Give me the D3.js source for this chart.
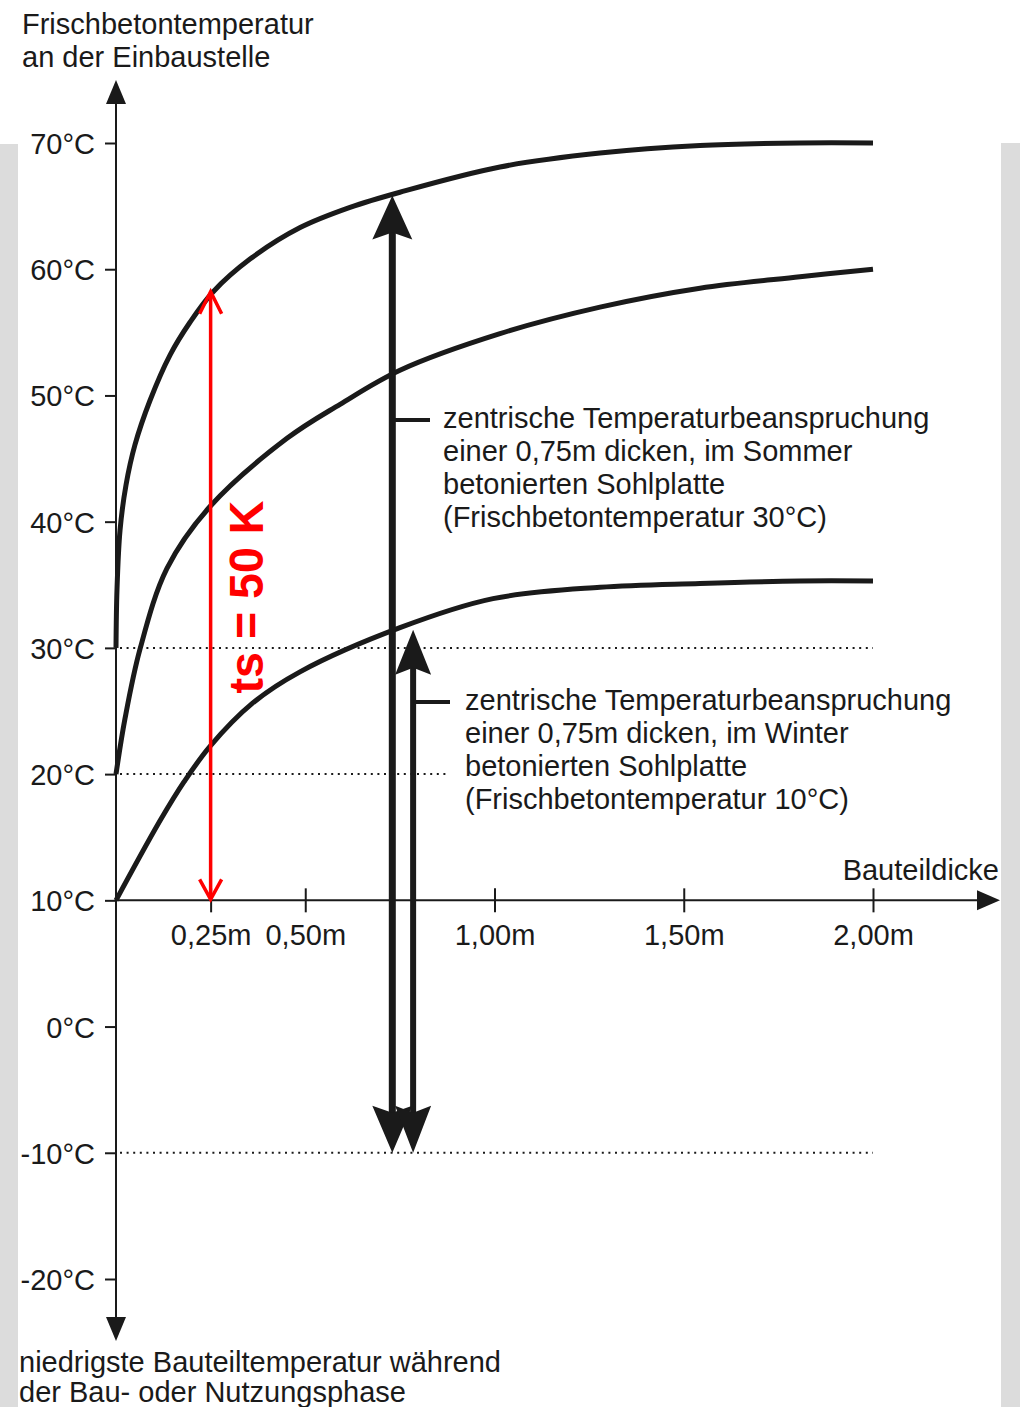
<!DOCTYPE html>
<html><head><meta charset="utf-8">
<script src="https://cdn.jsdelivr.net/npm/d3@7"></script>
<style>
html,body{margin:0;padding:0;background:#fff;}
svg{display:block;}
text{font-family:"Liberation Sans",Arial,Helvetica,sans-serif;fill:#1a1a1a;}
</style></head>
<body>
<svg id="chart" width="1020" height="1407"></svg>
<script>
// ---- data ----
const yTicks = [-20, -10, 0, 10, 20, 30, 40, 50, 60, 70];
const xTicks = [0.25, 0.5, 1.0, 1.5, 2.0];
const xTickLabels = ["0,25m", "0,50m", "1,00m", "1,50m", "2,00m"];

// curve 1: fresh concrete 30°C
const thickSummer = [0, 0.0026, 0.0106, 0.0264, 0.0502, 0.0898, 0.1427, 0.1955, 0.2563, 0.354, 0.4865, 0.6182, 0.7503, 1.0145, 1.2787, 1.5429, 1.807, 2.0];
const tempSummer  = [30, 34.6, 39.3, 42.9, 46.1, 49.6, 53.2, 55.8, 58.2, 60.8, 63.3, 64.9, 66.1, 68.1, 69.2, 69.8, 70.0, 70.0];
// curve 2: fresh concrete 20°C
const thickMid = [0, 0.0238, 0.0634, 0.1347, 0.2483, 0.4518, 0.592, 0.7503, 1.0145, 1.2787, 1.5429, 1.807, 2.0];
const tempMid  = [20, 24.4, 29.9, 36.3, 41.2, 46.6, 49.3, 52.0, 54.9, 57.0, 58.5, 59.4, 60.0];
// curve 3: fresh concrete 10°C
const thickWinter = [0, 0.1162, 0.18, 0.2483, 0.36, 0.4861, 0.7503, 0.996, 1.2787, 1.5429, 1.807, 2.0];
const tempWinter  = [10, 16.3, 19.4, 22.2, 25.6, 28.1, 31.6, 33.9, 34.8, 35.1, 35.3, 35.3];

// reference (dotted) levels: [temperature, end thickness]
const refLevels = [[30, 2.0], [20, 0.88], [-10, 2.0]];

// temperature-load arrows
const summerArrow = {x: 0.73, top: 66.0, bottom: -10};
const winterArrow = {x: 0.785, top: 31.6, bottom: -10};
const tsArrow = {x: 0.25, top: 58.3, bottom: 10};

const yTitle = ["Frischbetontemperatur", "an der Einbaustelle"];
const yTitleBottom = ["niedrigste Bauteiltemperatur während", "der Bau- oder Nutzungsphase"];
const xTitle = "Bauteildicke";
const summerText = ["zentrische Temperaturbeanspruchung", "einer 0,75m dicken, im Sommer", "betonierten Sohlplatte", "(Frischbetontemperatur 30°C)"];
const winterText = ["zentrische Temperaturbeanspruchung", "einer 0,75m dicken, im Winter", "betonierten Sohlplatte", "(Frischbetontemperatur 10°C)"];
const tsLabel = "ts = 50 K";

// ---- drawing ----
const svg = d3.select("#chart");
const ink = "#1a1a1a";
const FS = 29;

// gray page edges
svg.append("rect").attr("x", 0).attr("y", 144).attr("width", 18).attr("height", 1407 - 144).attr("fill", "#dcdcdc");
svg.append("rect").attr("x", 1001).attr("y", 143).attr("width", 19).attr("height", 1407 - 143).attr("fill", "#dcdcdc");

const x = d3.scaleLinear().domain([0, 2]).range([116, 873]);
const y = d3.scaleLinear().domain([-20, 70]).range([1279, 143]);

// dotted reference lines
svg.selectAll("line.ref").data(refLevels).join("line")
  .attr("class", "ref")
  .attr("x1", x(0) + 4).attr("x2", d => x(d[1]))
  .attr("y1", d => y(d[0])).attr("y2", d => y(d[0]))
  .attr("stroke", ink).attr("stroke-width", 2).attr("stroke-dasharray", "2,4.6");

// y axis
const yAxis = d3.axisLeft(y).tickValues(yTicks).tickSize(11).tickPadding(10).tickFormat(d => d + "°C");
const gy = svg.append("g").attr("transform", `translate(${x(0)},0)`).call(yAxis);
gy.select(".domain").remove();
gy.selectAll(".tick line").attr("stroke", ink).attr("stroke-width", 2);
gy.selectAll(".tick text").attr("font-size", FS).attr("fill", ink).attr("dy", "0.36em")
  .style("font-family", '"Liberation Sans",Arial,sans-serif');
svg.append("line").attr("x1", x(0)).attr("x2", x(0)).attr("y1", 100).attr("y2", 1320)
  .attr("stroke", ink).attr("stroke-width", 2);
svg.append("path").attr("d", `M${x(0)},80 L${x(0)+10},104 L${x(0)-10},104 Z`).attr("fill", ink);
svg.append("path").attr("d", `M${x(0)},1341 L${x(0)+10},1317 L${x(0)-10},1317 Z`).attr("fill", ink);

// x axis
const xAxis = d3.axisBottom(x).tickValues(xTicks).tickSize(12).tickFormat((d, i) => xTickLabels[i]);
const gx = svg.append("g").attr("transform", `translate(0,${y(10)})`).call(xAxis);
gx.select(".domain").remove();
gx.selectAll(".tick line").attr("y1", -12).attr("y2", 12).attr("stroke", ink).attr("stroke-width", 2);
gx.selectAll(".tick text").attr("font-size", FS).attr("fill", ink).attr("y", 45).attr("dy", 0)
  .style("font-family", '"Liberation Sans",Arial,sans-serif');
svg.append("line").attr("x1", x(0)).attr("x2", 980).attr("y1", y(10)).attr("y2", y(10))
  .attr("stroke", ink).attr("stroke-width", 2);
svg.append("path").attr("d", `M1000,${y(10)} L977,${y(10)-10} L977,${y(10)+10} Z`).attr("fill", ink);

// curves
const line = d3.line().x(d => x(d[0])).y(d => y(d[1])).curve(d3.curveCatmullRom.alpha(0.5));
const curves = [
  d3.zip(thickSummer, tempSummer),
  d3.zip(thickMid, tempMid),
  d3.zip(thickWinter, tempWinter)
];
svg.selectAll("path.curve").data(curves).join("path")
  .attr("class", "curve").attr("d", line)
  .attr("fill", "none").attr("stroke", ink).attr("stroke-width", 5);

// big black arrows
function stealthUp(cx, tip, hw, len, notch) {
  return `M${cx},${tip} L${cx+hw},${tip+len} L${cx},${tip+notch} L${cx-hw},${tip+len} Z`;
}
function stealthDown(cx, tip, hw, len, notch) {
  return `M${cx},${tip} L${cx+hw},${tip-len} L${cx},${tip-notch} L${cx-hw},${tip-len} Z`;
}
[[summerArrow, 7, 20, 44, 37], [winterArrow, 6, 18, 45, 38]].forEach(([a, w, hw, len, notch]) => {
  const cx = x(a.x);
  svg.append("line").attr("x1", cx).attr("x2", cx).attr("y1", y(a.top) + 30).attr("y2", y(a.bottom) - 30)
    .attr("stroke", ink).attr("stroke-width", w);
  svg.append("path").attr("d", stealthUp(cx, y(a.top) + 2, hw, len, notch)).attr("fill", ink);
  svg.append("path").attr("d", stealthDown(cx, y(a.bottom), hw, 47, 40)).attr("fill", ink);
});
// connectors
svg.append("line").attr("x1", x(summerArrow.x)).attr("x2", 430).attr("y1", 420).attr("y2", 420)
  .attr("stroke", ink).attr("stroke-width", 4);
svg.append("line").attr("x1", x(winterArrow.x)).attr("x2", 450).attr("y1", 702).attr("y2", 702)
  .attr("stroke", ink).attr("stroke-width", 4);

// annotation texts
function block(lines, x0, y0, dy) {
  const t = svg.append("text").attr("font-size", FS).attr("fill", ink);
  lines.forEach((s, i) => t.append("tspan").attr("x", x0).attr("y", y0 + i * dy).text(s));
}
block(summerText, 443, 428, 33);
block(winterText, 465, 710, 33);
block(yTitle, 22, 34, 33);
block(yTitleBottom, 19, 1372, 30);
svg.append("text").attr("x", 999).attr("y", 880).attr("text-anchor", "end").attr("font-size", FS).text(xTitle);

// red ts arrow
const red = "#ff0000";
const rx = x(tsArrow.x);
const rTop = y(tsArrow.top), rBot = y(tsArrow.bottom);
svg.append("line").attr("x1", rx).attr("x2", rx).attr("y1", rTop + 2).attr("y2", rBot - 2)
  .attr("stroke", red).attr("stroke-width", 3.5);
svg.append("path").attr("d", `M${rx-11},${rTop+23} L${rx},${rTop+1} L${rx+11},${rTop+23}`)
  .attr("fill", "none").attr("stroke", red).attr("stroke-width", 3.5);
svg.append("path").attr("d", `M${rx-11},${rBot-21} L${rx},${rBot-1} L${rx+11},${rBot-21}`)
  .attr("fill", "none").attr("stroke", red).attr("stroke-width", 3.5);
svg.append("text").attr("transform", "translate(263,597) rotate(-90)")
  .attr("text-anchor", "middle").attr("font-size", 48).attr("font-weight", "bold")
  .attr("textLength", 193).attr("lengthAdjust", "spacingAndGlyphs")
  .style("fill", red).text(tsLabel);
</script>
</body></html>
